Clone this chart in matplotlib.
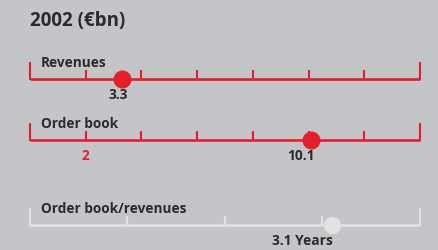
import matplotlib.pyplot as plt

# data
title = '2002 (€bn)'
rows = ['Revenues', 'Order book', 'Order book/revenues']
values = [3.3, 10.1, 3.1]
value_labels = ['3.3', '10.1', '3.1 Years']
scale_max = [14, 14, 4]
tick_step = [2, 2, 1]
order_book_mark = 2

bg = '#c4c5c8'
red = '#e3202a'
grey = '#e2e2e2'
dark = '#2b2b2b'

plt.rcParams['font.family'] = ['Open Sans', 'DejaVu Sans']

W, H = 439, 250
fig = plt.figure(figsize=(W / 100, H / 100), dpi=100)
fig.patch.set_facecolor(bg)

fig.text(30 / W, 1 - 21 / H, title, fontsize=13.5, fontweight='bold',
         color=dark, va='center', ha='left')

line_y = [79, 140, 225]      # pixel rows from top
colors = [red, red, grey]
label_dx = [-4, -10, -30]

for i in range(3):
    ax = fig.add_axes([30 / W, (H - line_y[i] - 30) / H, 390 / W, 60 / H])
    ax.set_xlim(0, scale_max[i])
    ax.set_ylim(-30, 30)
    ax.axis('off')
    c = colors[i]
    ax.plot([0, scale_max[i]], [0, 0], color=c, lw=1.9, solid_capstyle='butt',
            clip_on=False)
    for t in range(0, scale_max[i] + 1, tick_step[i]):
        top = 17 if t in (0, scale_max[i]) else 9
        ax.plot([t, t], [-1, top], color=c, lw=1.5, solid_capstyle='butt',
                clip_on=False)
    ax.plot([values[i]], [0], 'o', color=c, ms=13 if i < 2 else 12.5,
            mec='none', clip_on=False, zorder=5)
    ax.annotate(rows[i], (0, 0), xytext=(11, 16), textcoords='offset pixels',
                fontsize=9.8, fontweight='bold', color=dark, va='center', ha='left')
    ax.annotate(value_labels[i], (values[i], 0), xytext=(label_dx[i], -16),
                textcoords='offset pixels', ha='center', va='center',
                fontsize=9.9, fontweight='bold', color=dark)
    if i == 1:
        ax.annotate(str(order_book_mark), (order_book_mark, 0), xytext=(0, -16),
                    textcoords='offset pixels', ha='center', va='center',
                    fontsize=9.9, fontweight='bold', color=red)

fig.savefig('out.png', dpi=100, facecolor=bg)
